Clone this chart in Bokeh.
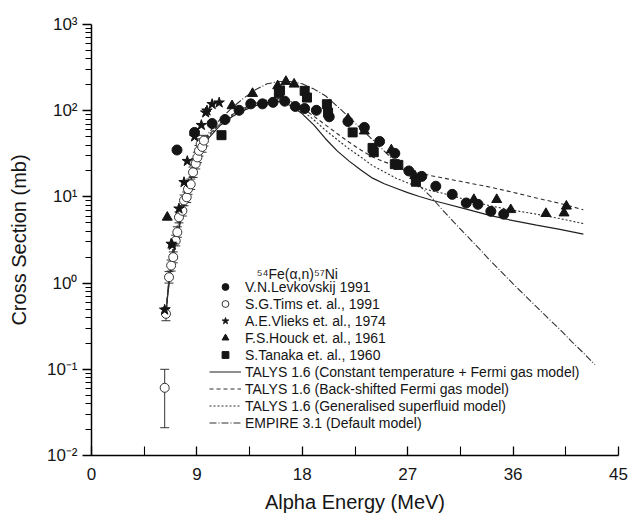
from bokeh.plotting import figure
from bokeh.models import (FixedTicker, CustomJSTickFormatter, Legend, LegendItem,
                          Whisker, TeeHead, ColumnDataSource, Label)
from bokeh.embed import file_html
from bokeh.resources import INLINE

# ---------------- data ----------------
# TALYS energy grid (MeV)
e_talys = [6.35, 6.5, 6.7, 7.0, 7.5, 8.0, 8.5, 9.0, 9.5, 10, 11, 12, 13, 14, 15, 16, 17, 18, 19,
           20, 21, 22, 23, 24, 25, 26, 27, 28, 29, 30, 32, 34, 36, 38, 40, 42]
talys_ct = [0.42, 0.7, 1.2, 2.2, 4.5, 9, 16, 26, 37, 48, 68, 85, 101, 114, 124, 128, 115, 92, 68,
            47, 34, 26, 20.5, 16.5, 14.2, 12.6, 11.2, 10.1, 9.2, 8.5, 7.2, 6.1, 5.3, 4.7, 4.2, 3.7]
talys_bsfg = [0.42, 0.75, 1.3, 2.5, 5, 10, 18, 29, 40, 52, 72, 90, 107, 122, 133, 138, 128, 108, 86,
              68, 54, 43, 35, 29, 25.5, 23, 21, 19, 17.6, 16.6, 14.7, 13, 11.3, 9.7, 8.4, 7.1]
talys_gsm = [0.42, 0.72, 1.25, 2.3, 4.7, 9.5, 17, 28, 39, 51, 71, 88, 105, 119, 129, 133, 122, 100, 78,
             59, 46, 36, 29, 23, 19.5, 16.5, 14.5, 13, 11.8, 11, 9.3, 7.9, 7.0, 6.3, 5.6, 4.9]

e_empire = [6.35, 6.5, 6.7, 7.0, 7.5, 8.0, 8.5, 9.0, 9.5, 10, 11, 12, 13, 14, 15, 16, 17, 18, 19, 20,
            21, 22, 23, 24, 25, 26, 27, 28, 29, 30, 31, 32, 33, 34, 35, 36, 37, 38, 39, 40, 41, 42, 43]
empire = [0.42, 0.8, 1.4, 2.8, 6, 12, 20, 31, 42, 55, 80, 108, 140, 175, 205, 218, 218, 205, 178, 148,
          112, 84, 62, 46, 34, 25, 18.5, 13.5, 10, 7.0, 5.0, 3.6, 2.6, 1.85, 1.35, 0.98, 0.72, 0.53,
          0.39, 0.29, 0.21, 0.155, 0.113]

lev_e = [7.3, 8.8, 10.3, 11.4, 12.6, 13.6, 14.6, 15.5, 16.5, 17.4, 18.2, 19.2, 20.3, 21.9, 23.3,
         24.6, 25.9, 27.1, 28.2, 29.4, 30.8, 32.0, 33.0, 34.1, 35.2]
lev_s = [35, 56, 71, 79, 101, 120, 120, 125, 129, 112, 106, 101, 85, 75, 64,
         44, 32, 20, 17.3, 13.3, 10.7, 8.5, 8.2, 6.8, 6.3]

tims_e = [6.25, 6.36, 6.62, 6.8, 6.98, 7.19, 7.33, 7.47, 7.76, 7.9, 8.13, 8.24, 8.47, 8.67, 8.9,
          9.04, 9.18, 9.32, 9.45, 9.6]
tims_s = [0.061, 0.44, 1.17, 1.6, 2.0, 3.1, 3.9, 5.8, 6.9, 9.1, 9.9, 12.3, 14, 19.3, 24.3,
          28.7, 34.3, 41, 38, 45]
tims_lo = [0.021, 0.366, 1.0, 1.38, 1.72, 2.7, 3.4, 5.0, 6.0, 7.9, 8.6, 10.7, 12.2, 16.8, 21.1,
           25.0, 29.8, 35.7, 33, 39]
tims_hi = [0.1, 0.52, 1.36, 1.85, 2.3, 3.6, 4.5, 6.7, 7.9, 10.5, 11.4, 14.1, 16.1, 22.2, 27.9,
           33.0, 39.4, 47.2, 43.7, 51.8]

vli_e = [6.25, 6.8, 6.9, 7.47, 7.9, 8.18, 8.8, 9.38, 9.75, 9.86, 10.3, 10.9]
vli_s = [0.49, 2.85, 2.77, 7.3, 14.8, 26, 50, 68, 95, 100, 119, 124]

hou_e = [6.47, 12.0, 13.75, 15.9, 16.6, 17.3, 21.9, 23.3, 25.6, 27.6, 32.65, 34.6, 35.8, 38.8,
         40.35, 40.55]
hou_s = [5.8, 114, 158, 194, 218, 203, 80, 58, 35, 17.6, 9.3, 9.3, 7.1, 6.4, 6.5, 7.8]

tan_e = [11.1, 16.0, 16.1, 18.2, 18.4, 20.1, 20.2, 22.3, 24.0, 24.1, 25.9, 26.2, 27.7]
tan_s = [52, 160, 172, 170, 142, 119, 95, 56, 37, 33, 24, 23.5, 15]

y_exponents = [-2, -1, 0, 1, 2, 3]
x_ticks = [0, 9, 18, 27, 36, 45]
x_minor = [4.5, 13.5, 22.5, 31.5, 40.5]

x_title = "Alpha Energy (MeV)"
y_title = "Cross Section (mb)"
legend_title = "\u2075\u2074Fe(\u03b1,n)\u2075\u2077Ni"
labels = ["V.N.Levkovskij 1991", "S.G.Tims et. al., 1991", "A.E.Vlieks et. al., 1974",
          "F.S.Houck et. al., 1961", "S.Tanaka et. al., 1960",
          "TALYS 1.6 (Constant temperature + Fermi gas model)",
          "TALYS 1.6 (Back-shifted Fermi gas model)",
          "TALYS 1.6 (Generalised superfluid model)",
          "EMPIRE 3.1 (Default model)"]

# ---------------- figure ----------------
FONT = "Liberation Sans"
INK = "#151515"
W, H = 630, 519
ML, MR, MT, MB = 91, 12, 24, 64

p = figure(width=W, height=H, x_range=(0, 45), y_range=(0.01, 1000), y_axis_type="log",
           output_backend="svg", toolbar_location=None,
           min_border_left=ML, min_border_right=MR, min_border_top=MT, min_border_bottom=MB)
p.outline_line_color = None
p.xgrid.visible = False
p.ygrid.visible = False
p.background_fill_color = "white"
p.border_fill_color = "white"

# curves
r_ct = p.line(e_talys, talys_ct, line_color="#202020", line_width=1.2)
r_bs = p.line(e_talys, talys_bsfg, line_color="#303030", line_width=1.1, line_dash="4 3")
r_gs = p.line(e_talys, talys_gsm, line_color="#303030", line_width=1.1, line_dash="2 2")
r_em = p.line(e_empire, empire, line_color="#303030", line_width=1.1, line_dash="7 2 1 2")

# data
tims_src = ColumnDataSource(dict(x=tims_e, y=tims_s, lo=tims_lo, hi=tims_hi))
wh = Whisker(source=tims_src, base="x", upper="hi", lower="lo", dimension="height",
             line_color="#333333", line_width=1,
             upper_head=TeeHead(size=9, line_color="#333333", line_width=1),
             lower_head=TeeHead(size=9, line_color="#333333", line_width=1))
p.add_layout(wh)
r_tims = p.scatter("x", "y", source=tims_src, marker="circle", size=9, fill_color="white",
                   line_color="#333333", line_width=1)
r_lev = p.scatter(lev_e, lev_s, marker="circle", size=10, fill_color=INK, line_color=INK)
r_vli = p.scatter(vli_e, vli_s, marker="star", size=11, fill_color=INK, line_color=INK)
r_hou = p.scatter(hou_e, hou_s, marker="triangle", size=10, fill_color=INK, line_color=INK)
r_tan = p.scatter(tan_e, tan_s, marker="square", size=9, fill_color=INK, line_color=INK)

# axes
xa = p.xaxis[0]
xa.ticker = FixedTicker(ticks=x_ticks, minor_ticks=x_minor)
xa.axis_label = x_title
ya = p.yaxis[0]
ya.ticker = FixedTicker(ticks=[10.0 ** e for e in y_exponents],
                        minor_ticks=[m * 10.0 ** e for e in y_exponents[:-1] for m in range(2, 10)])
ya.axis_label = y_title
ya.formatter = CustomJSTickFormatter(code="""
const sup = {'-':'\u207b','0':'\u2070','1':'\u00b9','2':'\u00b2','3':'\u00b3','4':'\u2074',
             '5':'\u2075','6':'\u2076','7':'\u2077','8':'\u2078','9':'\u2079'};
const e = Math.round(Math.log10(tick));
return '10' + String(e).split('').map(c => sup[c]).join('');
""")

for ax in (xa, ya):
    ax.axis_line_color = "black"
    ax.axis_line_width = 1.5
    ax.major_tick_line_color = "black"
    ax.minor_tick_line_color = "black"
    ax.major_tick_line_width = 1.3
    ax.minor_tick_line_width = 1.1
    ax.major_label_text_font = FONT
    ax.major_label_text_font_size = "17px"
    ax.major_label_text_color = INK
    ax.axis_label_text_font = FONT
    ax.axis_label_text_font_size = "20px"
    ax.axis_label_text_font_style = "normal"
    ax.axis_label_text_color = INK

xa.major_tick_in = 9
xa.major_tick_out = 0
xa.minor_tick_in = 9
xa.minor_tick_out = 0
xa.major_label_standoff = 12
xa.axis_label_standoff = 8

ya.major_tick_in = 0
ya.major_tick_out = 9
ya.minor_tick_in = 0
ya.minor_tick_out = 6
ya.major_label_standoff = 5
ya.axis_label_standoff = 14

# legend
renderers = [r_lev, r_tims, r_vli, r_hou, r_tan, r_ct, r_bs, r_gs, r_em]
items = [LegendItem(label=l, renderers=[r]) for l, r in zip(labels, renderers)]
legend = Legend(items=items, location=(118, 24), glyph_width=32, glyph_height=17,
                label_height=17, spacing=0, padding=0, margin=0, label_standoff=4,
                border_line_color=None, background_fill_alpha=0,
                label_text_font=FONT, label_text_font_size="14px", label_text_color=INK)
p.add_layout(legend)

title = Label(x=14.1, y=1.29, text=legend_title, text_font=FONT, text_font_size="14px",
              text_color=INK, text_baseline="middle", text_align="left")
p.add_layout(title)

open("out.html", "w").write(file_html(p, INLINE))
